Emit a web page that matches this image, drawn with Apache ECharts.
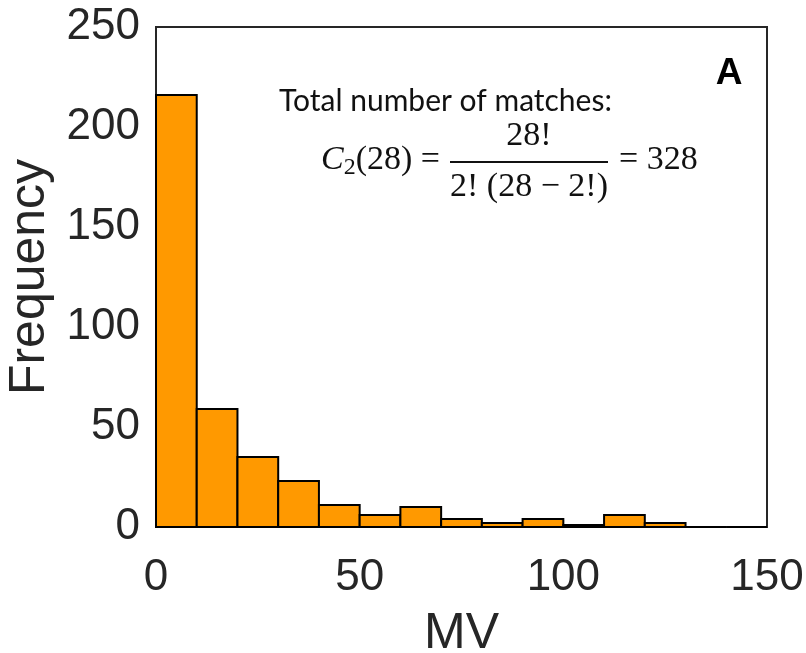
<!DOCTYPE html>
<html>
<head>
<meta charset="utf-8">
<script src="https://cdn.jsdelivr.net/npm/echarts@6/dist/echarts.min.js"></script>
<style>html,body{margin:0;padding:0;background:#fff}#c{width:806px;height:653px}</style>
</head>
<body>
<div id="c"></div>
<script>
// Histogram bins (MV) and frequencies
const binStarts = [0, 10, 20, 30, 40, 50, 60, 70, 80, 90, 100, 110, 120, 130, 140];
const binWidth = 10;
const frequencies = [216, 59, 35, 23, 11, 6, 10, 4, 2, 4, 1, 6, 2, 0, 0];
const xTicks = [0, 50, 100, 150];
const yTicks = [0, 50, 100, 150, 200, 250];
const xName = 'MV';
const yName = 'Frequency';

const chart = echarts.init(document.getElementById('c'), null, {renderer: 'canvas'});
const data = binStarts.map((s, i) => [s, s + binWidth, frequencies[i]]);
const axisColor = '#262626';
const font = '"Liberation Sans", Arial, sans-serif';
const mathFont = '"Liberation Serif", serif';

chart.setOption({
  animation: false,
  grid: {left: 156, right: 39, top: 27, bottom: 126, containLabel: false, outerBoundsMode: 'none',
    show: true, borderColor: axisColor, borderWidth: 2, backgroundColor: '#fff'},
  xAxis: {
    type: 'value', min: xTicks[0], max: xTicks[xTicks.length - 1], interval: 50,
    name: xName, nameLocation: 'middle', nameGap: 82,
    nameTextStyle: {fontSize: 50, color: axisColor, fontFamily: font},
    axisLine: {show: true, lineStyle: {color: axisColor, width: 2}},
    axisTick: {show: false},
    splitLine: {show: false},
    axisLabel: {fontSize: 44, color: axisColor, fontFamily: font, margin: 29}
  },
  yAxis: {
    type: 'value', min: yTicks[0], max: yTicks[yTicks.length - 1], interval: 50,
    name: yName, nameLocation: 'middle', nameGap: 97,
    nameTextStyle: {fontSize: 50, color: axisColor, fontFamily: font},
    axisLine: {show: true, lineStyle: {color: axisColor, width: 2}},
    axisTick: {show: false},
    splitLine: {show: false},
    axisLabel: {fontSize: 44, color: axisColor, fontFamily: font, margin: 16}
  },
  series: [{
    type: 'custom',
    data: data,
    encode: {x: [0, 1], y: 2},
    renderItem: function (params, api) {
      const p0 = api.coord([api.value(0), 0]);
      const p1 = api.coord([api.value(1), api.value(2)]);
      return {
        type: 'rect',
        shape: {x: p0[0], y: p1[1], width: p1[0] - p0[0], height: p0[1] - p1[1]},
        style: {fill: '#FF9900', stroke: '#000', lineWidth: 2}
      };
    }
  }],
  graphic: [
    {type: 'text', x: 729, y: 74, style: {text: 'A', font: 'bold 37px "Liberation Sans", Arial, sans-serif', fill: '#000', align: 'center', verticalAlign: 'middle'}},
    {type: 'text', x: 279, y: 101, style: {text: 'Total number of matches:', font: '30px Lato, "Open Sans", sans-serif', fill: '#111', verticalAlign: 'middle'}},
    {type: 'text', x: 440, y: 160, style: {
      text: '{c|C}{s|2}{n|(28) =}', align: 'right', verticalAlign: 'middle', fill: '#111',
      rich: {
        c: {font: 'italic 34px ' + mathFont, fill: '#111'},
        s: {font: '24px ' + mathFont, fill: '#111', padding: [16, 0, 0, 0]},
        n: {font: '34px ' + mathFont, fill: '#111'}
      }}},
    {type: 'text', x: 529, y: 136, style: {text: '28!', font: '34px ' + mathFont, fill: '#111', align: 'center', verticalAlign: 'middle'}},
    {type: 'line', shape: {x1: 450, y1: 162, x2: 608, y2: 162}, style: {stroke: '#111', lineWidth: 2}},
    {type: 'text', x: 529, y: 187, style: {text: '2! (28 \u2212 2!)', font: '34px ' + mathFont, fill: '#111', align: 'center', verticalAlign: 'middle'}},
    {type: 'text', x: 619, y: 160, style: {text: '= 328', font: '34px ' + mathFont, fill: '#111', verticalAlign: 'middle'}}
  ]
});
</script>
</body>
</html>
